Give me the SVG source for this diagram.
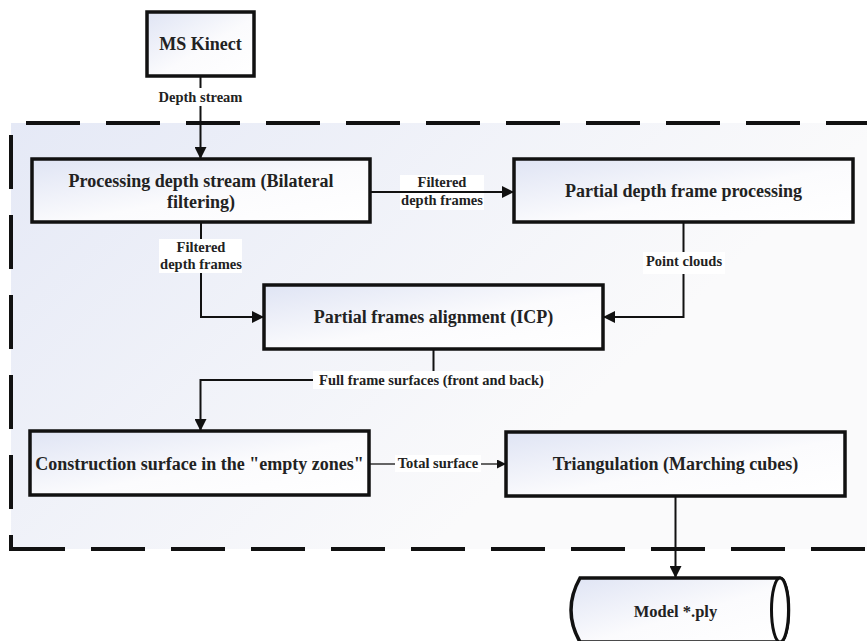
<svg xmlns="http://www.w3.org/2000/svg" width="867" height="641" viewBox="0 0 867 641">
<defs>
  <linearGradient id="gRegion" gradientUnits="userSpaceOnUse" x1="11" y1="123" x2="420" y2="560">
    <stop offset="0" stop-color="#e5e9f6"/>
    <stop offset="1" stop-color="#fafafb"/>
  </linearGradient>
  <linearGradient id="gNode" x1="0" y1="0" x2="1" y2="1">
    <stop offset="0" stop-color="#dfe4f4"/>
    <stop offset="0.55" stop-color="#fbfbfd"/>
    <stop offset="1" stop-color="#ffffff"/>
  </linearGradient>
  <marker id="arr" markerUnits="userSpaceOnUse" markerWidth="12" markerHeight="12" refX="12" refY="6" orient="auto">
    <path d="M0,0 L12,6 L0,12 z" fill="#111"/>
  </marker>
  <marker id="arrS" markerUnits="userSpaceOnUse" markerWidth="9" markerHeight="9" refX="9" refY="4.5" orient="auto">
    <path d="M0,0 L9,4.5 L0,9 z" fill="#111"/>
  </marker>
  <style>
    .node rect, .node path.body { fill: url(#gNode); stroke: #111; stroke-width: 3.5; }
    .ntxt { font-family: "Liberation Serif", "Times New Roman", serif; font-weight: bold; font-size: 18px; fill: #222; text-anchor: middle; }
    .ltxt { font-family: "Liberation Serif", "Times New Roman", serif; font-weight: bold; font-size: 14.5px; fill: #222; text-anchor: middle; }
    .conn { fill: none; stroke: #111; stroke-width: 2; }
    .thin { fill: none; stroke: #333; stroke-width: 1.3; }
    .lbg { fill: #ffffff; }
    .dash { stroke: #111; stroke-width: 4; stroke-dasharray: 54 26; fill: none; }
  </style>
</defs>

<rect x="0" y="0" width="867" height="641" fill="#ffffff"/>

<g id="region">
  <rect x="11" y="123" width="856" height="426" fill="url(#gRegion)"/>
  <line class="dash" x1="26" y1="123" x2="867" y2="123"/>
  <line class="dash" x1="11" y1="135" x2="11" y2="551"/>
  <line class="dash" x1="11" y1="549" x2="867" y2="549"/>
</g>

<g id="connectors">
  <g id="c-kinect-proc">
    <path class="conn" d="M200.5,76 V159" marker-end="url(#arr)"/>
    <rect class="lbg" x="156" y="88" width="89" height="18"/>
    <text class="ltxt" x="200.5" y="102">Depth stream</text>
  </g>
  <g id="c-proc-partial">
    <rect class="lbg" x="400" y="175" width="84" height="35"/>
    <text class="ltxt" x="442" y="187">Filtered</text>
    <text class="ltxt" x="442" y="205">depth frames</text>
    <path class="conn" d="M370,192 H514" marker-end="url(#arr)"/>
  </g>
  <g id="c-proc-icp">
    <path class="conn" d="M201,222 V317 H264" marker-end="url(#arr)"/>
    <rect class="lbg" x="159" y="239" width="83" height="34"/>
    <text class="ltxt" x="201" y="252">Filtered</text>
    <text class="ltxt" x="201" y="269">depth frames</text>
  </g>
  <g id="c-partial-icp">
    <path class="conn" d="M683.5,222 V317 H603" marker-end="url(#arr)"/>
    <rect class="lbg" x="643" y="252" width="82" height="22"/>
    <text class="ltxt" x="684" y="266">Point clouds</text>
  </g>
  <g id="c-icp-constr">
    <path class="conn" d="M433.5,349 V380 H200.5 V431" marker-end="url(#arr)"/>
    <rect class="lbg" x="313" y="371" width="237" height="18"/>
    <text class="ltxt" x="431.5" y="385">Full frame surfaces (front and back)</text>
  </g>
  <g id="c-constr-tri">
    <path class="thin" d="M369,464 H506" marker-end="url(#arrS)"/>
    <rect class="lbg" x="395" y="455" width="86" height="17"/>
    <text class="ltxt" x="438" y="468">Total surface</text>
  </g>
  <g id="c-tri-model">
    <path class="conn" d="M675.5,496 V578" marker-end="url(#arr)"/>
  </g>
</g>

<g id="n-kinect" class="node">
  <rect x="147" y="12" width="107" height="64"/>
  <text class="ntxt" x="200.5" y="50">MS Kinect</text>
</g>
<g id="n-processing" class="node">
  <rect x="32" y="159" width="338" height="63"/>
  <text class="ntxt" x="201" y="187">Processing depth stream (Bilateral</text>
  <text class="ntxt" x="201" y="208">filtering)</text>
</g>
<g id="n-partial" class="node">
  <rect x="514" y="159" width="339" height="63"/>
  <text class="ntxt" x="683.5" y="197">Partial depth frame processing</text>
</g>
<g id="n-icp" class="node">
  <rect x="264" y="285" width="339" height="64"/>
  <text class="ntxt" x="433.5" y="323">Partial frames alignment (ICP)</text>
</g>
<g id="n-construction" class="node">
  <rect x="30" y="431" width="339" height="64"/>
  <text class="ntxt" x="199.5" y="470">Construction surface in the "empty zones"</text>
</g>
<g id="n-triangulation" class="node">
  <rect x="506" y="432" width="339" height="64"/>
  <text class="ntxt" x="675.5" y="470">Triangulation (Marching cubes)</text>
</g>
<g id="n-model" class="node">
  <path class="body" d="M580,578 H780 A8.5,32 0 0 1 780,642 H580 Q562,610 580,578 Z" stroke-width="3"/>
  <ellipse cx="780" cy="610" rx="8.5" ry="32" fill="#ffffff" stroke="#111" stroke-width="3"/>
  <text class="ntxt" x="675.5" y="617" style="font-size:16.5px">Model *.ply</text>
</g>
</svg>
